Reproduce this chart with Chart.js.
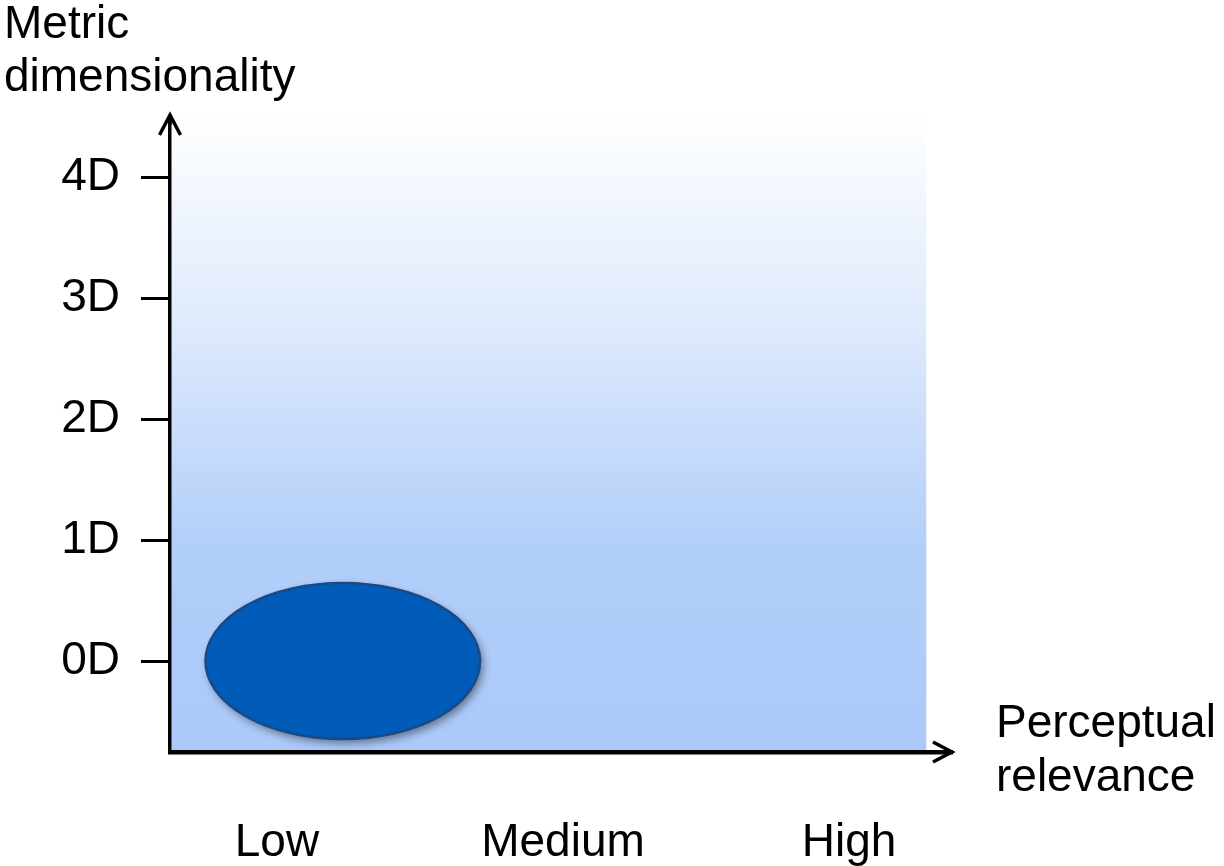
<!DOCTYPE html>
<html>
<head>
<meta charset="utf-8">
<script src="https://cdn.jsdelivr.net/npm/chart.js@4/dist/chart.umd.min.js"></script>
<style>
html,body{margin:0;padding:0;background:#fff;}
#chart{display:block;}
</style>
</head>
<body>
<canvas id="chart" width="1224" height="866"></canvas>
<script>
// axis ticks
const xTickVals = [0, 1, 2];
const xTickLabels = ['Low', 'Medium', 'High'];
const yTickVals = [0, 1, 2, 3, 4];
const yTickLabels = ['0D', '1D', '2D', '3D', '4D'];

// the blob (centre + half-size in axis units)
const blobX = [0.23];
const blobY = [0];
const blobHalfW = [0.48];
const blobHalfH = [0.645];

const yTitle = ['Metric', 'dimensionality'];
const xTitle = ['Perceptual', 'relevance'];

const FONT = '"Liberation Sans", Arial, sans-serif';

const bgPlugin = {
  id: 'bg',
  beforeDraw(chart){
    const {ctx, chartArea, scales:{x, y}} = chart;
    const top = y.getPixelForValue(4.56);
    const right = x.getPixelForValue(2.27);
    const g = ctx.createLinearGradient(0, top, 0, chartArea.bottom);
    g.addColorStop(0, '#ffffff');
    g.addColorStop(0.35, '#dde9fc');
    g.addColorStop(0.68, '#b2cefa');
    g.addColorStop(1, '#abc9f9');
    ctx.save();
    ctx.fillStyle = g;
    ctx.fillRect(chartArea.left, top, right - chartArea.left, chartArea.bottom - top);
    ctx.restore();
  }
};

const blobPlugin = {
  id: 'blob',
  afterDatasetsDraw(chart){
    const {ctx, scales:{x, y}} = chart;
    ctx.save();
    blobX.forEach((bx, i) => {
      const cx = x.getPixelForValue(bx);
      const cy = y.getPixelForValue(blobY[i]);
      const rx = Math.abs(x.getPixelForValue(bx + blobHalfW[i]) - cx);
      const ry = Math.abs(y.getPixelForValue(blobY[i] + blobHalfH[i]) - cy);
      ctx.beginPath();
      ctx.ellipse(cx, cy, rx, ry, 0, 0, Math.PI * 2);
      ctx.shadowColor = 'rgba(0,0,0,0.45)';
      ctx.shadowBlur = 8;
      ctx.shadowOffsetX = 3;
      ctx.shadowOffsetY = 4;
      ctx.fillStyle = '#005bb9';
      ctx.fill();
      ctx.shadowColor = 'transparent';
      ctx.lineWidth = 2.5;
      ctx.strokeStyle = '#174a86';
      ctx.stroke();
    });
    ctx.restore();
  }
};

const arrowPlugin = {
  id: 'arrows',
  afterDraw(chart){
    const {ctx, chartArea} = chart;
    ctx.save();
    ctx.strokeStyle = '#000';
    ctx.lineWidth = 3.5;
    ctx.lineCap = 'butt';
    ctx.lineJoin = 'miter';
    // up arrow
    const ux = chartArea.left, uy = chartArea.top - 2;
    ctx.beginPath();
    ctx.moveTo(ux - 10.5, uy + 20);
    ctx.lineTo(ux, uy);
    ctx.lineTo(ux + 10.5, uy + 20);
    ctx.stroke();
    ctx.beginPath();
    ctx.moveTo(ux, uy + 2);
    ctx.lineTo(ux, uy + 10);
    ctx.stroke();
    // right arrow
    const rx = chartArea.right, ry = chartArea.bottom;
    ctx.beginPath();
    ctx.moveTo(rx - 19, ry - 10);
    ctx.lineTo(rx, ry);
    ctx.lineTo(rx - 19, ry + 10);
    ctx.stroke();

    // axis titles
    ctx.fillStyle = '#000';
    ctx.font = '46px ' + FONT;
    ctx.textAlign = 'left';
    ctx.textBaseline = 'alphabetic';
    ctx.fillText(yTitle[0], 4, 38);
    ctx.fillText(yTitle[1], 4, 91);
    ctx.fillText(xTitle[0], 996, 737);
    ctx.fillText(xTitle[1], 996, 791);
    ctx.restore();
  }
};

new Chart(document.getElementById('chart'), {
  type: 'scatter',
  data: {
    datasets: [{
      data: blobX.map((v, i) => ({x: v, y: blobY[i]})),
      pointRadius: 0,
      pointHoverRadius: 0
    }]
  },
  options: {
    responsive: false,
    animation: false,
    events: [],
    layout: {padding: {left: 0, top: 117, right: 272, bottom: 0}},
    plugins: {legend: {display: false}, tooltip: {enabled: false}},
    scales: {
      x: {
        type: 'linear',
        min: -0.374,
        max: 2.36,
        afterFit: s => { s.height = 114; },
        afterBuildTicks: s => { s.ticks = xTickVals.map(v => ({value: v})); },
        grid: {display: false, drawTicks: false},
        border: {display: true, color: '#000', width: 4.5},
        ticks: {
          padding: 64,
          color: '#000',
          font: {family: FONT, size: 46},
          maxRotation: 0,
          callback: v => xTickLabels[xTickVals.indexOf(v)]
        }
      },
      y: {
        type: 'linear',
        min: -0.752,
        max: 4.5,
        afterFit: s => { s.width = 170; },
        afterBuildTicks: s => { s.ticks = yTickVals.map(v => ({value: v})); },
        grid: {drawOnChartArea: false, drawTicks: true, tickLength: 29, color: '#000', lineWidth: 3},
        border: {display: true, color: '#000', width: 3.5},
        ticks: {
          padding: 21,
          color: '#000',
          font: {family: FONT, size: 46},
          callback: v => yTickLabels[yTickVals.indexOf(v)]
        }
      }
    }
  },
  plugins: [bgPlugin, blobPlugin, arrowPlugin]
});
</script>
</body>
</html>
